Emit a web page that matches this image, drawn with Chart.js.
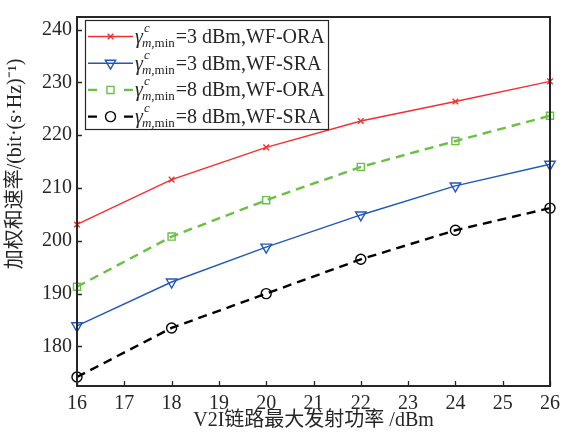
<!DOCTYPE html>
<html><head><meta charset="utf-8">
<script src="https://cdn.jsdelivr.net/npm/chart.js@4.4.0/dist/chart.umd.min.js"></script>
<style>html,body{margin:0;padding:0;background:#fff;}#wrap{width:566px;height:439px;}</style>
</head><body><div id="wrap"><canvas id="c" width="566" height="439"></canvas></div>
<script>
// ---- data ----
const xValues = [16, 18, 20, 22, 24, 26];
const xTickValues = [16, 17, 18, 19, 20, 21, 22, 23, 24, 25, 26];
const yTickValues = [180, 190, 200, 210, 220, 230, 240];
const ora3 = [203.1, 211.6, 217.7, 222.7, 226.4, 230.2];
const sra3 = [183.9, 192.2, 198.8, 204.9, 210.4, 214.5];
const ora8 = [191.3, 200.8, 207.7, 214.0, 218.9, 223.7];
const sra8 = [174.2, 183.5, 190.0, 196.5, 202.0, 206.2];
const legendPower = ['3', '3', '8', '8'];
const legendScheme = ['WF-ORA', 'WF-SRA', 'WF-ORA', 'WF-SRA'];
const xTitle = 'V2I链路最大发射功率 /dBm';
const yTitle = '加权和速率/(bit·(s·Hz)⁻¹)';

const FONT = '"Liberation Serif", "Noto Sans CJK SC", serif';
const TXT = '#262626';

function pts(arr) { return xValues.map((x, i) => ({ x: x, y: arr[i] })); }

const styles = [
  { color: '#f2302f', pointStyle: 'crossRot', radius: 4, rotation: 0, dash: [], width: 1.4 },
  { color: '#2159b8', pointStyle: 'triangle', radius: 6, rotation: 180, dash: [], width: 1.4 },
  { color: '#6abf45', pointStyle: 'rect', radius: 5, rotation: 0, dash: [9, 6], width: 2.4 },
  { color: '#000000', pointStyle: 'circle', radius: 5, rotation: 0, dash: [9, 6], width: 2.4 }
];
const seriesData = [ora3, sra3, ora8, sra8];

const datasets = seriesData.map((d, i) => ({
  label: 'γ=' + legendPower[i] + ' dBm,' + legendScheme[i],
  data: pts(d),
  borderColor: styles[i].color,
  borderWidth: styles[i].width,
  borderDash: styles[i].dash,
  pointStyle: styles[i].pointStyle,
  pointRadius: styles[i].radius,
  pointRotation: styles[i].rotation,
  pointBorderColor: styles[i].color,
  pointBackgroundColor: 'rgba(0,0,0,0)',
  pointBorderWidth: 1.4,
  tension: 0,
  clip: false,
  fill: false
}));

const framePlugin = {
  id: 'frame',
  afterDatasetsDraw(chart) {
    const ctx = chart.ctx;
    const a = chart.chartArea;
    const xs = chart.scales.x, ys = chart.scales.y;
    ctx.save();
    ctx.strokeStyle = '#262626';
    ctx.lineWidth = 1.3;
    ctx.setLineDash([]);
    ctx.beginPath();
    xs.ticks.forEach(t => {
      const px = Math.round(xs.getPixelForValue(t.value)) + 0.5;
      ctx.moveTo(px, a.bottom); ctx.lineTo(px, a.bottom - 5);
    });
    ys.ticks.forEach(t => {
      const py = Math.round(ys.getPixelForValue(t.value)) + 0.5;
      ctx.moveTo(a.left, py); ctx.lineTo(a.left + 5, py);
    });
    ctx.stroke();
    ctx.lineWidth = 2;
    ctx.strokeRect(a.left, a.top, a.right - a.left, a.bottom - a.top);

    // legend
    const bx = a.left + 8, by = a.top + 3, bw = 243, bh = 109;
    ctx.fillStyle = '#fff';
    ctx.fillRect(bx, by, bw, bh);
    ctx.lineWidth = 1.2;
    ctx.strokeStyle = '#262626';
    ctx.strokeRect(bx + 0.5, by + 0.5, bw, bh);
    const rowH = 26.7;
    for (let i = 0; i < 4; i++) {
      const st = styles[i];
      const base = by + 23 + i * rowH;
      const ly = base - 6.5;
      const lx0 = bx + 3, lx1 = bx + 48, mx = (lx0 + lx1) / 2;
      ctx.strokeStyle = st.color;
      ctx.lineWidth = st.width;
      ctx.setLineDash([]);
      ctx.beginPath();
      if (st.dash.length) {
        ctx.moveTo(lx0, ly); ctx.lineTo(lx0 + 9, ly);
        ctx.moveTo(lx1 - 9, ly); ctx.lineTo(lx1, ly);
      } else {
        ctx.moveTo(lx0, ly); ctx.lineTo(lx1, ly);
      }
      ctx.stroke();
      ctx.fillStyle = 'rgba(0,0,0,0)';
      ctx.lineWidth = 1.4;
      Chart.helpers.drawPoint(ctx, { pointStyle: st.pointStyle, radius: st.radius, rotation: st.rotation, borderWidth: 1.4 }, mx, ly);
      // text
      let tx = lx1 + 2;
      ctx.fillStyle = TXT;
      ctx.textBaseline = 'alphabetic';
      ctx.textAlign = 'left';
      ctx.font = 'italic 20px ' + FONT;
      ctx.fillText('γ', tx, base);
      const gw = ctx.measureText('γ').width;
      ctx.font = 'italic 13px ' + FONT;
      ctx.fillText('c', tx + gw + 1, base - 11);
      const cEnd = tx + gw + 1 + ctx.measureText('c').width;
      let sx = tx + gw - 1;
      ctx.fillText('m', sx, base + 4);
      sx += ctx.measureText('m').width;
      ctx.font = '13px ' + FONT;
      ctx.fillText(',min', sx, base + 4);
      sx += ctx.measureText(',min').width;
      tx = Math.max(sx, cEnd) + 1;
      ctx.font = '20px ' + FONT;
      ctx.fillText('=' + legendPower[i] + ' dBm,' + legendScheme[i], tx, base);
    }
    ctx.restore();
  }
};

new Chart(document.getElementById('c'), {
  type: 'line',
  data: { datasets: datasets },
  plugins: [framePlugin],
  options: {
    responsive: false,
    animation: false,
    devicePixelRatio: 1,
    layout: { padding: { top: 10, right: 11, left: 0, bottom: 0 } },
    plugins: { legend: { display: false }, tooltip: { enabled: false } },
    scales: {
      x: {
        type: 'linear', min: 16, max: 26,
        afterBuildTicks(s) { s.ticks = xTickValues.map(v => ({ value: v })); },
        afterFit(s) { s.height = 53; },
        grid: { display: false, drawTicks: false },
        border: { display: false },
        ticks: { color: TXT, font: { family: FONT, size: 20 }, padding: 6, maxRotation: 0, autoSkip: false },
        title: { display: true, text: xTitle, color: TXT, font: { family: FONT, size: 20 }, padding: { top: 0, bottom: 6 } }
      },
      y: {
        type: 'linear', min: 172.5, max: 242.4,
        afterBuildTicks(s) { s.ticks = yTickValues.map(v => ({ value: v })); },
        afterFit(s) { s.width = 77; },
        grid: { display: false, drawTicks: false },
        border: { display: false },
        ticks: { color: TXT, font: { family: FONT, size: 20 }, padding: 5, autoSkip: false },
        title: { display: true, text: '               ' + yTitle, color: TXT, font: { family: FONT, size: 20 }, padding: { top: 4, bottom: 0 } }
      }
    }
  }
});
</script>
</body></html>
